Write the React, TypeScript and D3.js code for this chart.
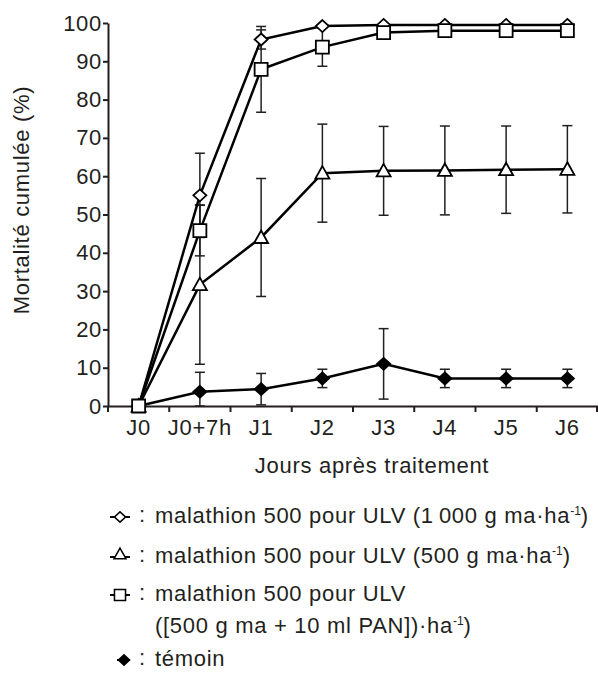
import * as d3 from "d3";
import React, { useRef, useEffect } from "react";

const days = ["J0", "J0+7h", "J1", "J2", "J3", "J4", "J5", "J6"];
const yTicks = [0, 10, 20, 30, 40, 50, 60, 70, 80, 90, 100];

// mortalité cumulée (%) et écart (barres d'erreur)
const mal1000 = [0, 55, 95.7, 99.2, 99.5, 99.5, 99.5, 99.5];
const mal1000Err = [0, 11, 2.5, 0, 0, 0, 0, 0];
const mal500 = [0, 31.7, 44, 60.8, 61.4, 61.5, 61.7, 61.8];
const mal500Err = [0, 20.8, 15.4, 12.8, 11.6, 11.6, 11.4, 11.4];
const malPan = [0, 45.8, 87.9, 93.7, 97.5, 98, 98, 98];
const malPanErr = [0, 6.6, 11.2, 5, 0, 0, 0, 0];
const temoin = [0, 3.7, 4.4, 7.2, 11, 7.2, 7.2, 7.2];
const temoinErr = [0, 5.1, 4.1, 2.4, 9.2, 2.4, 2.4, 2.4];

const W = 598;
const H = 676;
const FONT = "'Liberation Sans', Arial, Helvetica, sans-serif";
const FS = 22;
const LS = 0.7;
const INK = "#231f20";

const shapes = {
  diamond: "M0,-6L6.5,0L0,6L-6.5,0Z",
  square: "M-6.5,-6.5H6.5V6.5H-6.5Z",
  triangle: "M0,-7L7,5.5H-7Z",
};

const series = [
  { values: temoin, err: temoinErr, shape: "diamond", fill: "#000" },
  { values: mal500, err: mal500Err, shape: "triangle", fill: "#fff" },
  { values: mal1000, err: mal1000Err, shape: "diamond", fill: "#fff" },
  { values: malPan, err: malPanErr, shape: "square", fill: "#fff" },
];

export default function App() {
  const ref = useRef(null);

  useEffect(() => {
    const svg = d3.select(ref.current);
    svg.selectAll("*").remove();

    const left = 108, right = 598, top = 23, bottom = 406;
    const x = d3.scaleBand().domain(days).range([left, right]);
    const y = d3.scaleLinear().domain([0, 100]).range([bottom, top]);
    const cx = (i) => x(days[i]) + x.bandwidth() / 2;

    const g = svg.append("g").attr("font-family", FONT).attr("letter-spacing", LS);

    // axe Y
    const yAxis = d3.axisLeft(y).tickValues(yTicks).tickSizeInner(5).tickSizeOuter(0).tickPadding(1);
    const gy = g.append("g").attr("transform", `translate(${left},0)`).call(yAxis);
    gy.selectAll("text").attr("font-size", FS).attr("font-family", FONT).attr("fill", INK);
    gy.selectAll("line, path").attr("stroke", INK).attr("stroke-width", 2);

    // axe X
    const xAxis = d3.axisBottom(x).tickSizeInner(0).tickSizeOuter(0).tickPadding(13);
    const gx = g.append("g").attr("transform", `translate(0,${bottom})`).call(xAxis);
    gx.selectAll("text").attr("font-size", FS).attr("font-family", FONT).attr("fill", INK);
    gx.selectAll("path").attr("stroke", INK).attr("stroke-width", 2);
    const bounds = days.map((d) => x(d)).concat([right - 1]);
    gx.selectAll(".bound")
      .data(bounds)
      .join("line")
      .attr("x1", (d) => d)
      .attr("x2", (d) => d)
      .attr("y1", 0)
      .attr("y2", 6)
      .attr("stroke", INK)
      .attr("stroke-width", 2);

    // titres
    g.append("text")
      .attr("transform", `translate(29,200) rotate(-90)`)
      .attr("text-anchor", "middle")
      .attr("font-size", FS)
      .attr("fill", INK)
      .text("Mortalité cumulée (%)");
    g.append("text")
      .attr("x", 372)
      .attr("y", 473)
      .attr("text-anchor", "middle")
      .attr("font-size", FS)
      .attr("fill", INK)
      .text("Jours après traitement");

    // barres d'erreur
    series.forEach((s) => {
      const eb = g.append("g").attr("stroke", INK).attr("stroke-width", 1.5);
      s.values.forEach((v, i) => {
        const e = s.err[i];
        if (!e) return;
        const lo = y(Math.max(0, v - e));
        const hi = y(v + e);
        eb.append("line").attr("x1", cx(i)).attr("x2", cx(i)).attr("y1", lo).attr("y2", hi);
        eb.append("line").attr("x1", cx(i) - 5).attr("x2", cx(i) + 5).attr("y1", lo).attr("y2", lo);
        eb.append("line").attr("x1", cx(i) - 5).attr("x2", cx(i) + 5).attr("y1", hi).attr("y2", hi);
      });
    });

    // courbes et symboles
    const line = d3.line().x((d, i) => cx(i)).y((d) => y(d));
    series.forEach((s) => {
      g.append("path")
        .attr("d", line(s.values))
        .attr("fill", "none")
        .attr("stroke", "#000")
        .attr("stroke-width", 2.5);
    });
    series.forEach((s) => {
      g.append("g")
        .selectAll("path")
        .data(s.values)
        .join("path")
        .attr("transform", (d, i) => `translate(${cx(i)},${y(d)})`)
        .attr("d", shapes[s.shape])
        .attr("fill", s.fill)
        .attr("stroke", "#000")
        .attr("stroke-width", 1.8);
    });

    // légende
    const legend = [
      { shape: "diamond", fill: "#fff", y: 523, lines: [["malathion 500 pour ULV (1\u2009000 g ma·ha", "-1", ")"]] },
      { shape: "triangle", fill: "#fff", y: 563, lines: [["malathion 500 pour ULV (500 g ma·ha", "-1", ")"]] },
      {
        shape: "square",
        fill: "#fff",
        y: 601,
        lines: [["malathion 500 pour ULV", "", ""], ["([500 g ma + 10 ml PAN])·ha", "-1", ")"]],
      },
      { shape: "diamond", fill: "#000", y: 666, lines: [["témoin", "", ""]] },
    ];
    legend.forEach((l) => {
      const my = l.y - 6;
      const lg = g.append("g");
      const solid = l.fill === "#000";
      const mx = solid ? 124 : 120;
      lg.append("line")
        .attr("x1", solid ? 117 : 110)
        .attr("x2", 130)
        .attr("y1", my)
        .attr("y2", my)
        .attr("stroke", "#000")
        .attr("stroke-width", 2);
      const dy = l.shape === "triangle" ? -3 : 0;
      lg.append("path")
        .attr("transform", `translate(${mx},${my + dy}) scale(0.85)`)
        .attr("d", shapes[l.shape])
        .attr("fill", l.fill)
        .attr("stroke", "#000")
        .attr("stroke-width", 1.8);
      lg.append("text").attr("x", 139).attr("y", l.y - 1).attr("font-size", FS).attr("fill", INK).text(":");
      l.lines.forEach((ln, k) => {
        const t = lg.append("text")
          .attr("x", 155)
          .attr("y", l.y + k * 32)
          .attr("font-size", FS)
          .attr("fill", INK);
        t.append("tspan").text(ln[0]);
        if (ln[1]) t.append("tspan").attr("font-size", 12).attr("letter-spacing", 0).attr("dy", -8).text(ln[1]);
        if (ln[2]) t.append("tspan").attr("dy", ln[1] ? 8 : 0).text(ln[2]);
      });
    });
  }, []);

  return (
    <svg
      ref={ref}
      width={W}
      height={H}
      style={{ position: "absolute", left: 0, top: 0, background: "#fff" }}
    ></svg>
  );
}
